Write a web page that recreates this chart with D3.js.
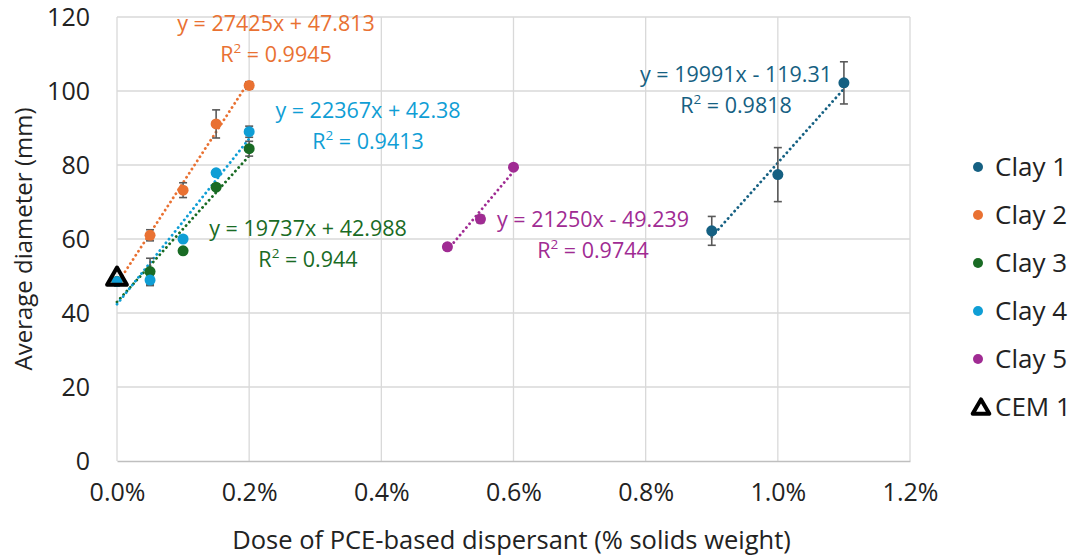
<!DOCTYPE html>
<html>
<head>
<meta charset="utf-8">
<script src="https://cdn.jsdelivr.net/npm/d3@7"></script>
<style>
  body { margin: 0; background: #fff; }
  text { font-family: "Open Sans", "Noto Sans", sans-serif; }
</style>
</head>
<body>
<div id="chart"></div>
<script>
// ---------------- data ----------------
var seriesNames = ["Clay 1", "Clay 2", "Clay 3", "Clay 4", "Clay 5"];

// dose in % solids weight
var clay1Dose = [0.9, 1.0, 1.1];
var clay1Diam = [62.2, 77.4, 102.2];
var clay1Err = [3.9, 7.3, 5.7];

var clay2Dose = [0, 0.05, 0.1, 0.15, 0.2];
var clay2Diam = [48.5, 61.0, 73.2, 91.1, 101.5];
var clay2Err = [0, 1.5, 2.0, 3.8, 1.0];

var clay3Dose = [0, 0.05, 0.1, 0.15, 0.2];
var clay3Diam = [48.5, 51.2, 56.8, 74.0, 84.4];
var clay3Err = [0, 3.6, 0.5, 0.8, 2.0];

var clay4Dose = [0, 0.05, 0.1, 0.15, 0.2];
var clay4Diam = [48.5, 48.9, 60.0, 77.9, 89.0];
var clay4Err = [0, 1.5, 0.5, 0.8, 1.5];

var clay5Dose = [0.5, 0.55, 0.6];
var clay5Diam = [57.9, 65.4, 79.4];
var clay5Err = [0.8, 1.0, 0.5];

var cemDose = [0];
var cemDiam = [49.2];

// linear trendlines (x as fraction), as printed on chart
var trendSlope = [19991, 27425, 19737, 22367, 21250];
var trendIntercept = [-119.31, 47.813, 42.988, 42.38, -49.239];
var trendR2 = ["0.9818", "0.9945", "0.944", "0.9413", "0.9744"];

var xTicks = [0, 0.2, 0.4, 0.6, 0.8, 1.0, 1.2];
var yTicks = [0, 20, 40, 60, 80, 100, 120];

var colors = ["#156082", "#E97132", "#196B24", "#0F9ED5", "#A02B93"];

// ---------------- layout ----------------
var svgWidth = 1073;
var svgHeight = 559;
var margin = { top: 17, right: 163, bottom: 98, left: 117 };
var width = svgWidth - margin.left - margin.right;
var height = svgHeight - margin.top - margin.bottom;

// equation label anchors (pixel, relative to svg)
var labelPos = [
    { x: 736, y: 74 },
    { x: 276, y: 23 },
    { x: 308, y: 228 },
    { x: 368, y: 110 },
    { x: 593, y: 219 }
];

var series = [
    { dose: clay1Dose, diam: clay1Diam, err: clay1Err },
    { dose: clay2Dose, diam: clay2Diam, err: clay2Err },
    { dose: clay3Dose, diam: clay3Diam, err: clay3Err },
    { dose: clay4Dose, diam: clay4Diam, err: clay4Err },
    { dose: clay5Dose, diam: clay5Diam, err: clay5Err }
].map(function(s, i) {
    return {
        name: seriesNames[i],
        color: colors[i],
        slope: trendSlope[i],
        intercept: trendIntercept[i],
        r2: trendR2[i],
        points: s.dose.map(function(d, j) {
            return { x: d, y: s.diam[j], e: s.err[j] };
        })
    };
});

var svg = d3.select("#chart")
    .append("svg")
    .attr("width", svgWidth)
    .attr("height", svgHeight);

var chartGroup = svg.append("g")
    .attr("transform", `translate(${margin.left}, ${margin.top})`);

var xScale = d3.scaleLinear().domain([0, 1.2]).range([0, width]);
var yScale = d3.scaleLinear().domain([0, 120]).range([height, 0]);

// gridlines
chartGroup.append("g")
    .selectAll("line")
    .data(yTicks.slice(1))
    .enter()
    .append("line")
    .attr("x1", 0).attr("x2", width)
    .attr("y1", d => yScale(d)).attr("y2", d => yScale(d))
    .attr("stroke", "#d9d9d9").attr("stroke-width", 1.3);

chartGroup.append("g")
    .selectAll("line")
    .data(xTicks)
    .enter()
    .append("line")
    .attr("x1", d => xScale(d)).attr("x2", d => xScale(d))
    .attr("y1", 0).attr("y2", height)
    .attr("stroke", "#d9d9d9").attr("stroke-width", 1.3);

// axes
var bottomAxis = d3.axisBottom(xScale)
    .tickValues(xTicks)
    .tickSize(0)
    .tickPadding(22)
    .tickFormat(d => d.toFixed(1) + "%");
var leftAxis = d3.axisLeft(yScale)
    .tickValues(yTicks)
    .tickSize(0)
    .tickPadding(27);

var xAxis = chartGroup.append("g")
    .attr("transform", `translate(0,${height})`)
    .call(bottomAxis);
xAxis.select(".domain").attr("stroke", "#bfbfbf").attr("stroke-width", 1.3);

var yAxis = chartGroup.append("g").call(leftAxis);
yAxis.select(".domain").remove();

chartGroup.selectAll(".tick text")
    .attr("font-size", 25)
    .attr("fill", "#222")
    .style("font-family", "'Open Sans', sans-serif");

// axis titles
svg.append("text")
    .attr("x", margin.left + width / 2 - 2)
    .attr("y", 549)
    .attr("text-anchor", "middle")
    .attr("font-size", 25.5)
    .attr("fill", "#222")
    .text("Dose of PCE-based dispersant (% solids weight)");

svg.append("text")
    .attr("transform", "translate(32,239) rotate(-90)")
    .attr("text-anchor", "middle")
    .attr("font-size", 24)
    .attr("fill", "#222")
    .text("Average diameter (mm)");

// trendlines
series.forEach(function(s) {
    var xs = d3.extent(s.points, p => p.x);
    chartGroup.append("line")
        .attr("x1", xScale(xs[0]))
        .attr("y1", yScale(s.slope * xs[0] / 100 + s.intercept))
        .attr("x2", xScale(xs[1]))
        .attr("y2", yScale(s.slope * xs[1] / 100 + s.intercept))
        .attr("stroke", s.color)
        .attr("stroke-width", 2.8)
        .attr("stroke-dasharray", "0.1 4.8")
        .attr("stroke-linecap", "round");
});

// error bars
series.forEach(function(s) {
    var eb = chartGroup.append("g")
        .selectAll("g")
        .data(s.points.filter(p => p.e > 0))
        .enter()
        .append("g")
        .attr("stroke", "#595959")
        .attr("stroke-width", 1.6);
    eb.append("line")
        .attr("x1", d => xScale(d.x)).attr("x2", d => xScale(d.x))
        .attr("y1", d => yScale(d.y - d.e)).attr("y2", d => yScale(d.y + d.e));
    eb.append("line")
        .attr("x1", d => xScale(d.x) - 4).attr("x2", d => xScale(d.x) + 4)
        .attr("y1", d => yScale(d.y - d.e)).attr("y2", d => yScale(d.y - d.e));
    eb.append("line")
        .attr("x1", d => xScale(d.x) - 4).attr("x2", d => xScale(d.x) + 4)
        .attr("y1", d => yScale(d.y + d.e)).attr("y2", d => yScale(d.y + d.e));
});

// markers
series.forEach(function(s) {
    chartGroup.append("g")
        .selectAll("circle")
        .data(s.points)
        .enter()
        .append("circle")
        .attr("cx", d => xScale(d.x))
        .attr("cy", d => yScale(d.y))
        .attr("r", 5.5)
        .attr("fill", s.color);
});

// CEM 1 triangle
var tri = d3.symbol().type(d3.symbolTriangle).size(170);
chartGroup.append("g")
    .selectAll("path")
    .data(cemDose.map((d, i) => ({ x: d, y: cemDiam[i] })))
    .enter()
    .append("path")
    .attr("d", tri)
    .attr("transform", d => `translate(${xScale(d.x)},${yScale(d.y)})`)
    .attr("fill", "none")
    .attr("stroke", "#000")
    .attr("stroke-width", 4)
    .attr("stroke-linejoin", "round");

// equation labels
series.forEach(function(s, i) {
    var sign = s.intercept < 0 ? " - " : " + ";
    var eq = "y = " + s.slope + "x" + sign + Math.abs(s.intercept);
    var g = svg.append("g")
        .attr("fill", s.color)
        .attr("font-size", 21.5)
        .attr("text-anchor", "middle");
    g.append("text")
        .attr("x", labelPos[i].x)
        .attr("y", labelPos[i].y + 8)
        .text(eq);
    var r = g.append("text")
        .attr("x", labelPos[i].x)
        .attr("y", labelPos[i].y + 39);
    r.append("tspan").text("R");
    r.append("tspan").attr("font-size", 13.5).attr("dy", -9).text("2");
    r.append("tspan").attr("dy", 9).text(" = " + s.r2);
});

// legend
var legendItems = seriesNames.map((n, i) => ({ name: n, color: colors[i], tri: false }));
legendItems.push({ name: "CEM 1", color: "#000", tri: true });

var legend = svg.append("g")
    .selectAll("g")
    .data(legendItems)
    .enter()
    .append("g")
    .attr("transform", (d, i) => `translate(978,${167 + i * 48})`);

legend.filter(d => !d.tri)
    .append("circle")
    .attr("r", 5)
    .attr("fill", d => d.color);

legend.filter(d => d.tri)
    .append("path")
    .attr("d", d3.symbol().type(d3.symbolTriangle).size(120))
    .attr("transform", "translate(3,2)")
    .attr("fill", "none")
    .attr("stroke", "#000")
    .attr("stroke-width", 4)
    .attr("stroke-linejoin", "round");

legend.append("text")
    .attr("x", 17)
    .attr("y", 9)
    .attr("font-size", 26)
    .attr("fill", "#222")
    .text(d => d.name);
</script>
</body>
</html>
